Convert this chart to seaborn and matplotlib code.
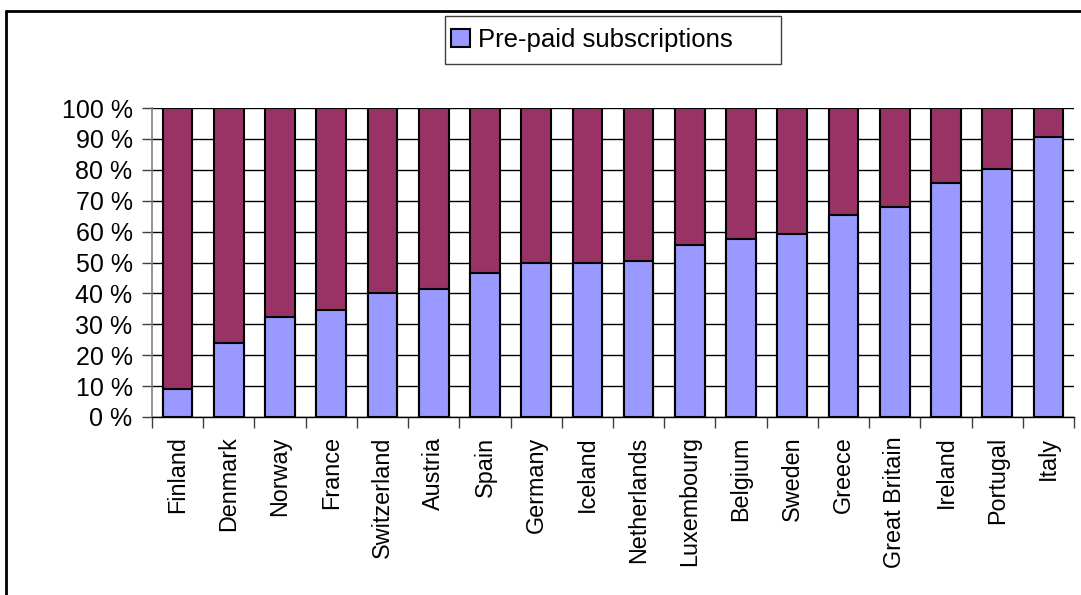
import matplotlib
matplotlib.use("Agg")
import matplotlib.pyplot as plt
import seaborn as sns
import numpy as np
from matplotlib.patches import Patch, Rectangle
from matplotlib.lines import Line2D
from matplotlib.ticker import FixedLocator

countries = ["Finland", "Denmark", "Norway", "France", "Switzerland", "Austria",
             "Spain", "Germany", "Iceland", "Netherlands", "Luxembourg", "Belgium",
             "Sweden", "Greece", "Great Britain", "Ireland", "Portugal", "Italy"]
prepaid = [9.0, 24.0, 32.4, 34.6, 40.0, 41.4, 46.6, 50.0, 50.0, 50.5, 55.7, 57.6,
           59.2, 65.5, 68.0, 75.6, 80.2, 90.6]
postpaid = [100 - v for v in prepaid]
totals = [a + b for a, b in zip(prepaid, postpaid)]
yticks = list(range(0, 101, 10))
ytick_labels = [f"{v} %" for v in yticks]

BLUE = "#9999FF"
MAROON = "#993366"

sns.set_theme(style="white")
plt.rcParams['font.family'] = ['Liberation Sans', 'DejaVu Sans']
plt.rcParams['text.color'] = 'black'
plt.rcParams['xtick.color'] = 'black'
plt.rcParams['ytick.color'] = 'black'

fig = plt.figure(figsize=(10.81, 5.95), dpi=100)
ax = fig.add_axes([152/1081, 1-417/595, (1074-152)/1081, (417-108)/595])

sns.barplot(x=countries, y=totals, color=MAROON, saturation=1, width=0.58,
            edgecolor="black", linewidth=1.5, ax=ax, zorder=3)
sns.barplot(x=countries, y=prepaid, color=BLUE, saturation=1, width=0.58,
            edgecolor="black", linewidth=1.5, ax=ax, zorder=4)

ax.set_ylim(0, 100)
ax.set_xlim(-0.5, len(countries) - 0.5)
ax.set_yticks(yticks)
ax.set_yticklabels(ytick_labels, fontsize=18)
ax.set_xticks(range(len(countries)))
ax.set_xticklabels(countries, rotation=90, fontsize=16.8)
ax.xaxis.set_minor_locator(FixedLocator(np.arange(-0.5, len(countries), 1.0)))
ax.tick_params(axis="x", which="major", length=0, pad=14)
ax.tick_params(axis="x", which="minor", length=8, width=1, color="#404040", direction="out", bottom=True)
ax.tick_params(axis="y", length=7, width=1, color="#404040", direction="out", left=True, pad=7)
ax.set_xlabel("")
ax.set_ylabel("")

ax.yaxis.grid(True, color="black", linewidth=1)
ax.set_axisbelow(True)
for s in ["top", "right"]:
    ax.spines[s].set_visible(False)
ax.spines["left"].set_color("#808080")
ax.spines["left"].set_linewidth(1.2)
ax.spines["bottom"].set_color("black")
ax.spines["bottom"].set_linewidth(1)

# legend box
fig.add_artist(Rectangle((445/1081, 1-64/595), (781-445)/1081, 48/595,
                         transform=fig.transFigure, facecolor="white",
                         edgecolor="#404040", linewidth=1))
handles = [Patch(facecolor=BLUE, edgecolor="black", linewidth=1.5, label="Pre-paid subscriptions")]
leg = fig.legend(handles=handles, loc="center left",
                 bbox_to_anchor=(451/1081, 1-40/595), bbox_transform=fig.transFigure,
                 fontsize=18.5, frameon=False,
                 handlelength=0.75, handleheight=0.75, handletextpad=0.3,
                 borderpad=0, borderaxespad=0)

# outer chart frame
fig.add_artist(Line2D([6/1081, 1.0], [1-11/595, 1-11/595], color="black", linewidth=2, transform=fig.transFigure))
fig.add_artist(Line2D([6/1081, 6/1081], [0, 1-11/595], color="black", linewidth=2, transform=fig.transFigure))

fig.savefig("out.png", dpi=100)
